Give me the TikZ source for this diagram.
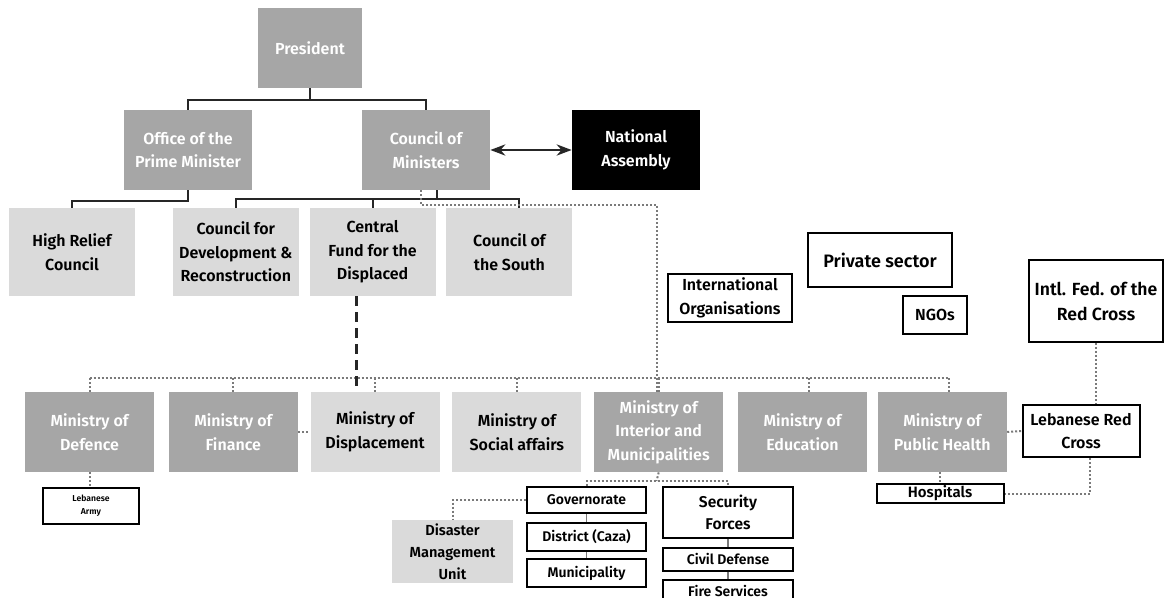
\documentclass[tikz,border=0pt]{standalone}
\usepackage{fontspec}
\setmainfont{Fira Sans}[BoldFont={Fira Sans SemiBold}]
\usetikzlibrary{positioning,calc,arrows.meta}
\definecolor{boxdark}{HTML}{A6A6A6}
\definecolor{boxlight}{HTML}{DADADA}
\definecolor{dotgray}{HTML}{7A7A7A}
\tikzset{
  lb base/.style={rectangle, align=center, inner sep=1pt, font=\bfseries\fontsize{8}{11.8}\selectfont},
  lb dark/.style={lb base, fill=boxdark, text=white},
  lb light/.style={lb base, fill=boxlight, text=black},
  lb black/.style={lb base, fill=black, text=white},
  lb open/.style={lb base, draw=black, line width=1pt, fill=white, text=black},
  lb small/.style={inner sep=0pt, font=\bfseries\fontsize{7}{9}\selectfont},
  lb tree/.style={line width=1pt, black!85},
  lb dots/.style={densely dotted, line width=1pt, dotgray},
  lb tick/.style={line width=0.6pt, dotgray}
}
\begin{document}
\begin{tikzpicture}[x=0.5pt, y=-0.5pt, node distance=5pt, >=Stealth]
    \fill [white] (0,0) rectangle (1166,598);
    \useasboundingbox (0,0) rectangle (1166,598);

    % top levels
    \node [lb dark, minimum width=52pt, minimum height=40pt] (pres) at (310,48) {President};
    \node [lb dark, minimum width=64pt, minimum height=40pt] (opm) at (188,150) {Office of the\\Prime Minister};
    \node [lb dark, minimum width=64pt, minimum height=40pt] (com) at (426,150) {Council of\\Ministers};
    \node [lb black, minimum width=64pt, minimum height=40pt] (na) at (636,150) {National\\Assembly};

    % councils
    \node [lb light, minimum width=63pt, minimum height=44pt] (hrc) at (72,252) {High Relief\\Council};
    \node [lb light, minimum width=63pt, minimum height=44pt, right=18.5pt of hrc] (cdr) {Council for\\Development \&\\Reconstruction};
    \node [lb light, minimum width=63pt, minimum height=44pt, right=5pt of cdr] (cfd) {Central\\Fund for the\\Displaced};
    \node [lb light, minimum width=63pt, minimum height=44pt, right=5pt of cfd] (cos) {Council of\\the South};

    % outside actors
    \node [lb open, minimum width=62pt, minimum height=24pt] (intorg) at (730,298) {International\\Organisations};
    \node [lb open, minimum width=72pt, minimum height=27pt, font=\bfseries\fontsize{9}{11}\selectfont] (priv) at (880,260) {Private sector};
    \node [lb open, minimum width=32pt, minimum height=19pt] (ngo) at (935,315) {NGOs};
    \node [lb open, minimum width=67pt, minimum height=41pt, font=\bfseries\fontsize{8.8}{12.5}\selectfont] (ifrc) at (1096,301) {Intl. Fed. of the\\Red Cross};

    % ministries
    \node [lb dark, minimum width=64.5pt, minimum height=40pt] (def) at (89.5,432) {Ministry of\\Defence};
    \node [lb dark, minimum width=64.5pt, minimum height=40pt, right=7pt of def] (fin) {Ministry of\\Finance};
    \node [lb light, minimum width=64.5pt, minimum height=40pt, right=6pt of fin] (disp) {Ministry of\\Displacement};
    \node [lb light, minimum width=64.5pt, minimum height=40pt, right=6pt of disp] (soc) {Ministry of\\Social affairs};
    \node [lb dark, minimum width=64.5pt, minimum height=40pt, right=6pt of soc] (int) {Ministry of\\Interior and\\Municipalities};
    \node [lb dark, minimum width=64.5pt, minimum height=40pt, right=7pt of int] (edu) {Ministry of\\Education};
    \node [lb dark, minimum width=64.5pt, minimum height=40pt, right=5pt of edu] (ph) {Ministry of\\Public Health};

    % below ministries
    \node [lb open, minimum width=48pt, minimum height=18pt, font=\bfseries\fontsize{4.3}{6.5}\selectfont] (army) at (91,506) {Lebanese\\Army};
    \node [lb open, minimum width=58.5pt, minimum height=26pt] (lrc) at (1081,431) {Lebanese Red\\Cross};
    \node [lb open, lb small, minimum width=63.5pt, minimum height=9.5pt, font=\bfseries\fontsize{7.5}{9}\selectfont] (hosp) at (940,493.5) {Hospitals};
    \node [lb open, lb small, minimum width=59.5pt, minimum height=13pt] (gov) at (586.5,500) {Governorate};
    \node [lb open, lb small, minimum width=59.5pt, minimum height=14pt, below=4pt of gov] (dist) {District (Caza)};
    \node [lb open, lb small, minimum width=59.5pt, minimum height=14pt, below=3pt of dist] (muni) {Municipality};
    \node [lb open, minimum width=65pt, minimum height=25.5pt, font=\bfseries\fontsize{7.8}{11}\selectfont] (sec) at (728,512) {Security\\Forces};
    \node [lb open, lb small, minimum width=65pt, minimum height=11.5pt, below=4pt of sec] (civ) {Civil Defense};
    \node [lb open, lb small, minimum width=65pt, minimum height=11pt, below=3.5pt of civ] (fire) {Fire Services};
    \node [lb light, minimum width=60.5pt, minimum height=31.5pt, font=\bfseries\fontsize{7.3}{11}\selectfont] (dmu) at (452.5,551.5) {Disaster\\Management\\Unit};

    % solid hierarchy
    \coordinate (topbar) at (310,100);
    \draw [lb tree] (pres.south) -- (topbar);
    \draw [lb tree] (opm.north) |- (topbar) -| (com.north);
    \draw [lb tree] (opm.south) -- ++(0,11) -| (hrc.north);
    \coordinate (combar) at (437,199);
    \draw [lb tree] (com.south -| combar) -- (combar);
    \draw [lb tree] (cdr.north) |- (combar) -| ($(cos.north)+(10,0)$);
    \draw [lb tree] (cfd.north) -- (cfd.north |- combar);
    \draw [lb tree, <->] (com.east) -- (na.east -| na.west);

    % dotted links to the ministries
    \coordinate (dotturn) at (657,205);
    \draw [lb dots] ($(com.south)+(-5,0)$) |- (dotturn) -- (int.north -| dotturn);
    \coordinate (mbar) at (0,378);
    \draw [lb dots] (def.north |- mbar) -- ($(ph.north |- mbar)+(7,0)$);
    \foreach \m in {def,fin,disp,soc,int} {
      \draw [lb dots] (\m.north) -- (\m.north |- mbar);
    }
    \draw [lb dots] ($(edu.north)+(6,0)$) -- ($(edu.north |- mbar)+(6,0)$);
    \draw [lb dots] ($(ph.north)+(7,0)$) -- ($(ph.north |- mbar)+(7,0)$);
    \coordinate (cfdd) at ($(cfd.south)+(-16,0)$);
    \draw [line width=1.6pt, black!85, dash pattern=on 5pt off 3pt] (cfdd) -- (cfdd |- disp.north);
    \draw [lb dots] (fin.east) -- (disp.west);

    % below the ministries
    \draw [lb dots] (def.south) -- (army.north -| def.south);
    \coordinate (ibar) at (656.5,481);
    \draw [lb dots] (int.south) -- (ibar);
    \draw [lb dots] (gov.north) |- (ibar) -| (sec.north);
    \draw [lb dots] (gov.west) -| (dmu.north);
    \draw [lb tick] (gov) -- (dist);
    \draw [lb tick] (dist) -- (muni);
    \draw [lb tick] (sec) -- (civ);
    \draw [lb tick] (civ) -- (fire);
    \draw [lb dots] (ph.south -| hosp.north) -- (hosp.north);
    \draw [lb dots] (ph.east) -- (lrc.west);
    \draw [lb dots] (ifrc.south) -- (ifrc.south |- lrc.north);
    \draw [lb dots] ($(lrc.south)+(9,0)$) |- (hosp.east);
\end{tikzpicture}
\end{document}
